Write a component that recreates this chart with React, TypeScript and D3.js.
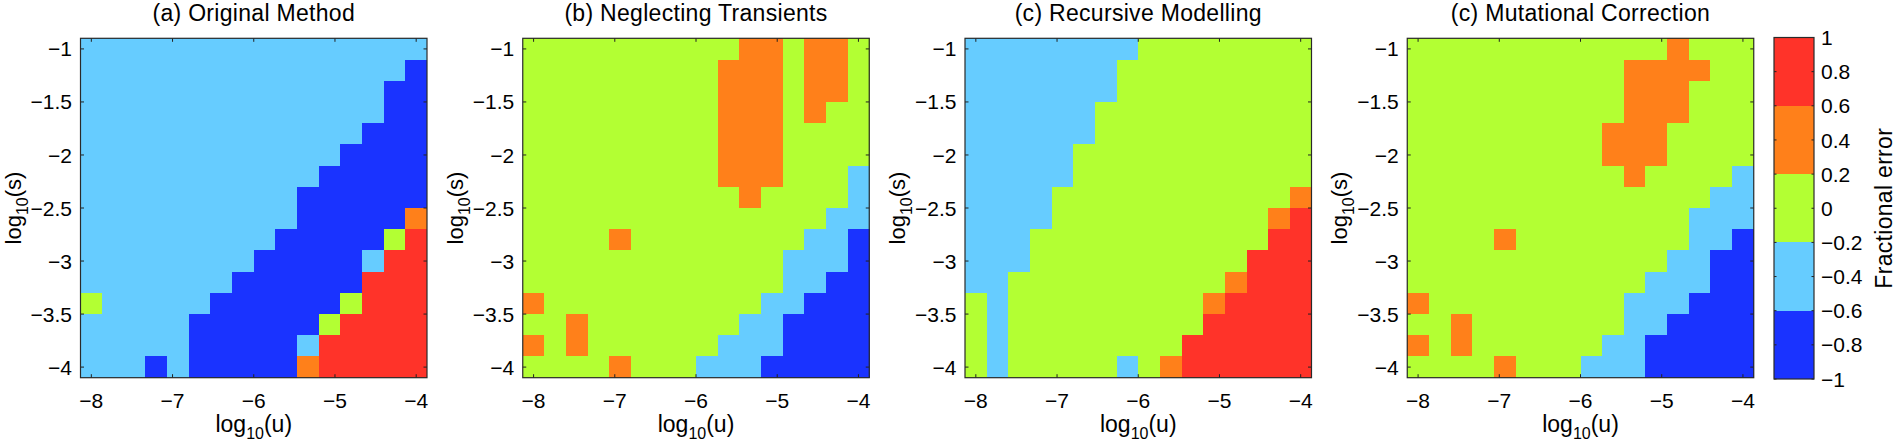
import React from "react";
import * as d3 from "d3";

// grid coordinates (log10 u across, log10 s down)
const uValues: number[] = d3.range(16).map((k) => -8 + (k * 4) / 15);
const sValues: number[] = d3.range(16).map((k) => -1 - k * 0.2);

const xTicks = [-8, -7, -6, -5, -4];
const yTicks = [-1, -1.5, -2, -2.5, -3, -3.5, -4];
const cbTicks = [1, 0.8, 0.6, 0.4, 0.2, 0, -0.2, -0.4, -0.6, -0.8, -1];

const titles = [
  "(a) Original Method",
  "(b) Neglecting Transients",
  "(c) Recursive Modelling",
  "(c) Mutational Correction",
];

// fractional error per cell, rows = s (-1 .. -4), cols = u (-8 .. -4)
const errOriginal: number[][] = [
  [-.4, -.4, -.4, -.4, -.4, -.4, -.4, -.4, -.4, -.4, -.4, -.4, -.4, -.4, -.4, -.4],
  [-.4, -.4, -.4, -.4, -.4, -.4, -.4, -.4, -.4, -.4, -.4, -.4, -.4, -.4, -.4, -.8],
  [-.4, -.4, -.4, -.4, -.4, -.4, -.4, -.4, -.4, -.4, -.4, -.4, -.4, -.4, -.8, -.8],
  [-.4, -.4, -.4, -.4, -.4, -.4, -.4, -.4, -.4, -.4, -.4, -.4, -.4, -.4, -.8, -.8],
  [-.4, -.4, -.4, -.4, -.4, -.4, -.4, -.4, -.4, -.4, -.4, -.4, -.4, -.8, -.8, -.8],
  [-.4, -.4, -.4, -.4, -.4, -.4, -.4, -.4, -.4, -.4, -.4, -.4, -.8, -.8, -.8, -.8],
  [-.4, -.4, -.4, -.4, -.4, -.4, -.4, -.4, -.4, -.4, -.4, -.8, -.8, -.8, -.8, -.8],
  [-.4, -.4, -.4, -.4, -.4, -.4, -.4, -.4, -.4, -.4, -.8, -.8, -.8, -.8, -.8, -.8],
  [-.4, -.4, -.4, -.4, -.4, -.4, -.4, -.4, -.4, -.4, -.8, -.8, -.8, -.8, -.8, .4],
  [-.4, -.4, -.4, -.4, -.4, -.4, -.4, -.4, -.4, -.8, -.8, -.8, -.8, -.8, 0, .8],
  [-.4, -.4, -.4, -.4, -.4, -.4, -.4, -.4, -.8, -.8, -.8, -.8, -.8, -.4, .8, .8],
  [-.4, -.4, -.4, -.4, -.4, -.4, -.4, -.8, -.8, -.8, -.8, -.8, -.8, .8, .8, .8],
  [0, -.4, -.4, -.4, -.4, -.4, -.8, -.8, -.8, -.8, -.8, -.8, 0, .8, .8, .8],
  [-.4, -.4, -.4, -.4, -.4, -.8, -.8, -.8, -.8, -.8, -.8, 0, .8, .8, .8, .8],
  [-.4, -.4, -.4, -.4, -.4, -.8, -.8, -.8, -.8, -.8, -.4, .8, .8, .8, .8, .8],
  [-.4, -.4, -.4, -.8, -.4, -.8, -.8, -.8, -.8, -.8, .4, .8, .8, .8, .8, .8],
];

const errTransients: number[][] = [
  [0, 0, 0, 0, 0, 0, 0, 0, 0, 0, .4, .4, 0, .4, .4, 0],
  [0, 0, 0, 0, 0, 0, 0, 0, 0, .4, .4, .4, 0, .4, .4, 0],
  [0, 0, 0, 0, 0, 0, 0, 0, 0, .4, .4, .4, 0, .4, .4, 0],
  [0, 0, 0, 0, 0, 0, 0, 0, 0, .4, .4, .4, 0, .4, 0, 0],
  [0, 0, 0, 0, 0, 0, 0, 0, 0, .4, .4, .4, 0, 0, 0, 0],
  [0, 0, 0, 0, 0, 0, 0, 0, 0, .4, .4, .4, 0, 0, 0, 0],
  [0, 0, 0, 0, 0, 0, 0, 0, 0, .4, .4, .4, 0, 0, 0, -.4],
  [0, 0, 0, 0, 0, 0, 0, 0, 0, 0, .4, 0, 0, 0, 0, -.4],
  [0, 0, 0, 0, 0, 0, 0, 0, 0, 0, 0, 0, 0, 0, -.4, -.4],
  [0, 0, 0, 0, .4, 0, 0, 0, 0, 0, 0, 0, 0, -.4, -.4, -.8],
  [0, 0, 0, 0, 0, 0, 0, 0, 0, 0, 0, 0, -.4, -.4, -.4, -.8],
  [0, 0, 0, 0, 0, 0, 0, 0, 0, 0, 0, 0, -.4, -.4, -.8, -.8],
  [.4, 0, 0, 0, 0, 0, 0, 0, 0, 0, 0, -.4, -.4, -.8, -.8, -.8],
  [0, 0, .4, 0, 0, 0, 0, 0, 0, 0, -.4, -.4, -.8, -.8, -.8, -.8],
  [.4, 0, .4, 0, 0, 0, 0, 0, 0, -.4, -.4, -.4, -.8, -.8, -.8, -.8],
  [0, 0, 0, 0, .4, 0, 0, 0, -.4, -.4, -.4, -.8, -.8, -.8, -.8, -.8],
];

const errRecursive: number[][] = [
  [-.4, -.4, -.4, -.4, -.4, -.4, -.4, -.4, 0, 0, 0, 0, 0, 0, 0, 0],
  [-.4, -.4, -.4, -.4, -.4, -.4, -.4, 0, 0, 0, 0, 0, 0, 0, 0, 0],
  [-.4, -.4, -.4, -.4, -.4, -.4, -.4, 0, 0, 0, 0, 0, 0, 0, 0, 0],
  [-.4, -.4, -.4, -.4, -.4, -.4, 0, 0, 0, 0, 0, 0, 0, 0, 0, 0],
  [-.4, -.4, -.4, -.4, -.4, -.4, 0, 0, 0, 0, 0, 0, 0, 0, 0, 0],
  [-.4, -.4, -.4, -.4, -.4, 0, 0, 0, 0, 0, 0, 0, 0, 0, 0, 0],
  [-.4, -.4, -.4, -.4, -.4, 0, 0, 0, 0, 0, 0, 0, 0, 0, 0, 0],
  [-.4, -.4, -.4, -.4, 0, 0, 0, 0, 0, 0, 0, 0, 0, 0, 0, .4],
  [-.4, -.4, -.4, -.4, 0, 0, 0, 0, 0, 0, 0, 0, 0, 0, .4, .8],
  [-.4, -.4, -.4, 0, 0, 0, 0, 0, 0, 0, 0, 0, 0, 0, .8, .8],
  [-.4, -.4, -.4, 0, 0, 0, 0, 0, 0, 0, 0, 0, 0, .8, .8, .8],
  [-.4, -.4, 0, 0, 0, 0, 0, 0, 0, 0, 0, 0, .4, .8, .8, .8],
  [0, -.4, 0, 0, 0, 0, 0, 0, 0, 0, 0, .4, .8, .8, .8, .8],
  [0, -.4, 0, 0, 0, 0, 0, 0, 0, 0, 0, .8, .8, .8, .8, .8],
  [0, -.4, 0, 0, 0, 0, 0, 0, 0, 0, .8, .8, .8, .8, .8, .8],
  [0, -.4, 0, 0, 0, 0, 0, -.4, 0, .4, .8, .8, .8, .8, .8, .8],
];

const errMutational: number[][] = [
  [0, 0, 0, 0, 0, 0, 0, 0, 0, 0, 0, 0, .4, 0, 0, 0],
  [0, 0, 0, 0, 0, 0, 0, 0, 0, 0, .4, .4, .4, .4, 0, 0],
  [0, 0, 0, 0, 0, 0, 0, 0, 0, 0, .4, .4, .4, 0, 0, 0],
  [0, 0, 0, 0, 0, 0, 0, 0, 0, 0, .4, .4, .4, 0, 0, 0],
  [0, 0, 0, 0, 0, 0, 0, 0, 0, .4, .4, .4, 0, 0, 0, 0],
  [0, 0, 0, 0, 0, 0, 0, 0, 0, .4, .4, .4, 0, 0, 0, 0],
  [0, 0, 0, 0, 0, 0, 0, 0, 0, 0, .4, 0, 0, 0, 0, -.4],
  [0, 0, 0, 0, 0, 0, 0, 0, 0, 0, 0, 0, 0, 0, -.4, -.4],
  [0, 0, 0, 0, 0, 0, 0, 0, 0, 0, 0, 0, 0, -.4, -.4, -.4],
  [0, 0, 0, 0, .4, 0, 0, 0, 0, 0, 0, 0, 0, -.4, -.4, -.8],
  [0, 0, 0, 0, 0, 0, 0, 0, 0, 0, 0, 0, -.4, -.4, -.8, -.8],
  [0, 0, 0, 0, 0, 0, 0, 0, 0, 0, 0, -.4, -.4, -.4, -.8, -.8],
  [.4, 0, 0, 0, 0, 0, 0, 0, 0, 0, -.4, -.4, -.4, -.8, -.8, -.8],
  [0, 0, .4, 0, 0, 0, 0, 0, 0, 0, -.4, -.4, -.8, -.8, -.8, -.8],
  [.4, 0, .4, 0, 0, 0, 0, 0, 0, -.4, -.4, -.8, -.8, -.8, -.8, -.8],
  [0, 0, 0, 0, .4, 0, 0, 0, -.4, -.4, -.4, -.8, -.8, -.8, -.8, -.8],
];

const panels = [errOriginal, errTransients, errRecursive, errMutational];

const levelEdges = [-1, -0.6, -0.2, 0.2, 0.6, 1];
const levelColors = ["#1a33ff", "#66ccff", "#b3ff33", "#ff801a", "#ff3329"];

const FONT = "'Liberation Sans', Arial, Helvetica, sans-serif";

const fmt = (v: number) => (v < 0 ? "\u2212" + String(Math.abs(v)) : String(v));

const color = d3
  .scaleThreshold<number, string>()
  .domain(levelEdges.slice(1, -1))
  .range(levelColors);

const PLOT_TOP = 38.3;
const PLOT_BOTTOM = 377.7;
const PLOT_W = 346.5;
const PANEL_STEP = 442.25;
const FIRST_LEFT = 80.5;
const TICK = 3.5;
const LABEL_SIZE = 23;
const SUB_SIZE = 16;

function Panel({ index, data }: { index: number; data: number[][] }) {
  const left = FIRST_LEFT + index * PANEL_STEP;
  const du = 4 / 15;
  const x = d3
    .scaleLinear()
    .domain([-8 - du / 2, -4 + du / 2])
    .range([left, left + PLOT_W]);
  const y = d3.scaleLinear().domain([-0.9, -4.1]).range([PLOT_TOP, PLOT_BOTTOM]);
  const cx = left + PLOT_W / 2;
  const cy = (PLOT_TOP + PLOT_BOTTOM) / 2;
  const cells: JSX.Element[] = [];
  data.forEach((row, j) =>
    row.forEach((v, k) => {
      const x0 = x(uValues[k] - du / 2);
      const x1 = x(uValues[k] + du / 2);
      const y0 = y(sValues[j] + 0.1);
      const y1 = y(sValues[j] - 0.1);
      cells.push(
        <rect
          key={`${j}-${k}`}
          x={x0}
          y={y0}
          width={x1 - x0 + 0.4}
          height={y1 - y0 + 0.4}
          fill={color(v)}
          shapeRendering="crispEdges"
        />
      );
    })
  );
  return (
    <g>
      <text
        x={cx}
        y={21}
        textAnchor="middle"
        fontSize={LABEL_SIZE}
        letterSpacing={0.3}
        fontFamily={FONT}
      >
        {titles[index]}
      </text>
      {cells}
      {xTicks.map((t) => (
        <g key={"xt" + t}>
          <line x1={x(t)} x2={x(t)} y1={PLOT_BOTTOM} y2={PLOT_BOTTOM - TICK} stroke="#222" />
          <line x1={x(t)} x2={x(t)} y1={PLOT_TOP} y2={PLOT_TOP + TICK} stroke="#222" />
          <text x={x(t)} y={408} textAnchor="middle" fontSize={21} fontFamily={FONT}>
            {fmt(t)}
          </text>
        </g>
      ))}
      {yTicks.map((t) => (
        <g key={"yt" + t}>
          <line x1={left} x2={left + TICK} y1={y(t)} y2={y(t)} stroke="#222" />
          <line x1={left + PLOT_W} x2={left + PLOT_W - TICK} y1={y(t)} y2={y(t)} stroke="#222" />
          <text
            x={left - 8.5}
            y={y(t)}
            dy="0.36em"
            textAnchor="end"
            fontSize={21}
            fontFamily={FONT}
          >
            {fmt(t)}
          </text>
        </g>
      ))}
      <rect
        x={left}
        y={PLOT_TOP}
        width={PLOT_W}
        height={PLOT_BOTTOM - PLOT_TOP}
        fill="none"
        stroke="#2a2a2a"
        strokeWidth={1.2}
      />
      <text x={cx} y={431.5} textAnchor="middle" fontSize={LABEL_SIZE} fontFamily={FONT}>
        log
        <tspan fontSize={SUB_SIZE} dy={7}>10</tspan>
        <tspan dy={-7}>(u)</tspan>
      </text>
      <text
        transform={`translate(${left - 60},${cy}) rotate(-90)`}
        textAnchor="middle"
        fontSize={22}
        fontFamily={FONT}
      >
        log
        <tspan fontSize={SUB_SIZE} dy={7}>10</tspan>
        <tspan dy={-7}>(s)</tspan>
      </text>
    </g>
  );
}

function Colorbar() {
  const x0 = 1774;
  const x1 = 1814;
  const y = d3.scaleLinear().domain([-1, 1]).range([379, 37.5]);
  return (
    <g>
      {levelColors.map((c, i) => (
        <rect
          key={c}
          x={x0}
          y={y(levelEdges[i + 1])}
          width={x1 - x0}
          height={y(levelEdges[i]) - y(levelEdges[i + 1])}
          fill={c}
          shapeRendering="crispEdges"
        />
      ))}
      {cbTicks.map((t) => (
        <g key={"cb" + t}>
          <line x1={x0} x2={x0 + 2.5} y1={y(t)} y2={y(t)} stroke="#222" />
          <line x1={x1} x2={x1 - 2.5} y1={y(t)} y2={y(t)} stroke="#222" />
          <text x={x1 + 7} y={y(t)} dy="0.36em" fontSize={21} fontFamily={FONT}>
            {fmt(t)}
          </text>
        </g>
      ))}
      <rect
        x={x0}
        y={y(1)}
        width={x1 - x0}
        height={y(-1) - y(1)}
        fill="none"
        stroke="#2a2a2a"
        strokeWidth={1.2}
      />
      <text
        transform={`translate(1892,${(y(1) + y(-1)) / 2}) rotate(-90)`}
        textAnchor="middle"
        fontSize={LABEL_SIZE}
        letterSpacing={0.3}
        fontFamily={FONT}
      >
        Fractional error
      </text>
    </g>
  );
}

export default function App() {
  return (
    <svg
      width={1896}
      height={447}
      style={{ position: "absolute", left: 0, top: 0, background: "#fff" }}
    >
      <rect x={0} y={0} width={1896} height={447} fill="#fff" />
      {panels.map((d, i) => (
        <Panel key={i} index={i} data={d} />
      ))}
      <Colorbar />
    </svg>
  );
}
